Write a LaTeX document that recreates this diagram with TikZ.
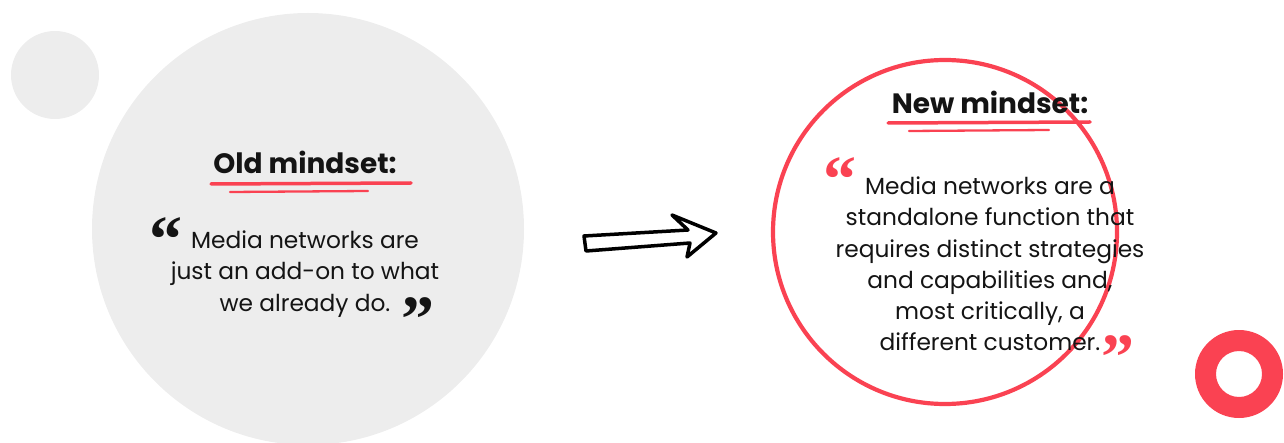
\documentclass[tikz,border=0pt]{standalone}
\usepackage{fontspec}
\setmainfont{Poppins}
\newfontfamily\quotefont{Liberation Serif}
\definecolor{brandred}{RGB}{250,66,82}
\definecolor{softgray}{RGB}{237,237,237}
\definecolor{ink}{RGB}{20,20,20}
\begin{document}
\begin{tikzpicture}[x=1pt,y=-1pt,
  heading/.style={font=\fontsize{28}{30}\selectfont\bfseries, text=ink, inner sep=0pt},
  body/.style={font=\fontsize{23.3}{31.2}\selectfont, text=ink, align=center, inner sep=0pt},
  quotemark/.style={font=\quotefont\fontsize{66}{66}\selectfont\bfseries, inner sep=0pt},
  stroke/.style={draw=brandred, line width=3.5pt, line cap=round}]
\useasboundingbox (0,0) rectangle (1284,443);
% circles
\fill[softgray] (308,229) circle[radius=216];
\fill[softgray] (55,75) circle[radius=44];
\draw[brandred, line width=4.2pt] (945,232) circle[radius=172];
\fill[brandred, even odd rule] (1239,374) circle[radius=44] (1239,374) circle[radius=23];
% old mindset
\node[heading, anchor=base] (oldh) at (305,174) {Old mindset:};
\coordinate (ou1a) at (211,184); \coordinate (ou1b) at (411,183);
\coordinate (ou2a) at (230,192); \coordinate (ou2b) at (368,191);
\draw[stroke] (ou1a) -- (ou1b);
\draw[stroke, line width=2.3pt] (ou2a) -- (ou2b);
\node[body] (oldq) at (305,274) {Media networks are\\just an add-on to what\\we already do.};
\node[quotemark, text=ink, anchor=center] (oldo) at (166,240) {“};
\node[quotemark, text=ink, anchor=center] (oldc) at (418,320) {”};
% arrow
\draw[line width=3.5pt, line join=round, fill=white] (584,236) -- (688,230) -- (672,215) -- (716,233) -- (687,257) -- (690,243) -- (586,251) -- cycle;
% new mindset
\node[heading, anchor=base] (newh) at (990,114) {New mindset:};
\coordinate (nu1a) at (888,123); \coordinate (nu1b) at (1090,122);
\coordinate (nu2a) at (909,131); \coordinate (nu2b) at (1049,130);
\draw[stroke] (nu1a) -- (nu1b);
\draw[stroke, line width=2.3pt] (nu2a) -- (nu2b);
\node[body] (newq) at (990,264) {Media networks are a\\standalone function that\\requires distinct strategies\\and capabilities and,\\most critically, a\\different customer.};
\node[quotemark, text=brandred, anchor=center] (newo) at (840,180) {“};
\node[quotemark, text=brandred, anchor=center] (newc) at (1118,358) {”};
\end{tikzpicture}
\end{document}
